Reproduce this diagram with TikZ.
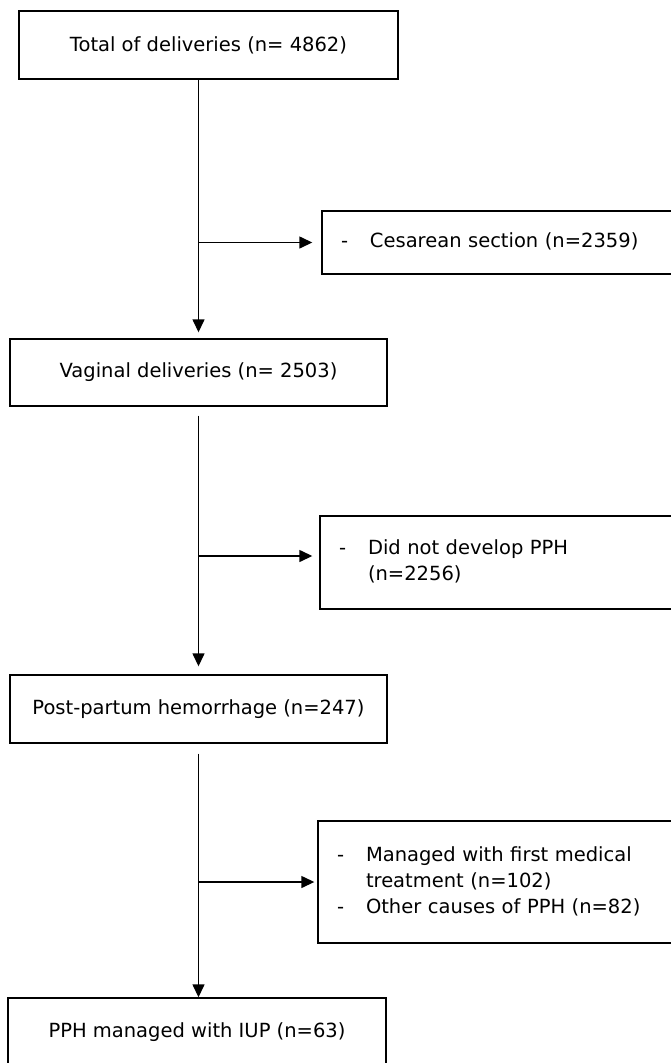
\documentclass[tikz,border=0pt]{standalone}
\usepackage{fontspec}
\setmainfont{DejaVu Sans}
\usetikzlibrary{arrows.meta}
\tikzset{
  box/.style={draw, line width=1.4pt, minimum height=68pt, inner sep=0pt, font=\fontsize{19.5}{26}\selectfont},
  sidebox/.style={draw, line width=1.4pt, minimum width=378pt, text width=340pt, inner xsep=19pt, align=left, font=\fontsize{19.5}{26}\selectfont},
  arr/.style={line width=1.4pt, -{Triangle[length=13pt,width=12pt]}}
}
\begin{document}
\begin{tikzpicture}[x=1pt,y=-1pt]
\useasboundingbox (0,0) rectangle (671,1063);
\clip (0,0) rectangle (671,1063);
% main column
\node[box, minimum width=379pt] (total) at (208.5,45){Total of deliveries (n= 4862)};
\node[box, minimum width=377pt, minimum height=67pt] (vaginal) at (198.5,372.5){Vaginal deliveries (n= 2503)};
\node[box, minimum width=377pt] (pph) at (198.5,709){Post-partum hemorrhage (n=247)};
\node[box, minimum width=378pt] (iup) at (197,1032){PPH managed with IUP (n=63)};
% excluded
\node[sidebox, minimum height=63pt] (cesarean) at (511,242.5){\begin{tabular}{@{}p{29pt}@{}l@{}}- & Cesarean section (n=2359)\end{tabular}};
\node[sidebox, minimum height=93pt] (nopph) at (509,562.5){\begin{tabular}{@{}p{29pt}@{}l@{}}- & Did not develop PPH\\ & (n=2256)\end{tabular}};
\node[sidebox, minimum height=122pt] (other) at (507,882){\begin{tabular}{@{}p{29pt}@{}l@{}}- & Managed with first medical\\ & treatment (n=102)\\- & Other causes of PPH (n=82)\end{tabular}};
\coordinate (b1) at (vaginal.north |- cesarean.west);
\coordinate (b2) at (199,556);
\coordinate (b3) at (pph.south |- other.west);
% arrows
\draw[arr, shorten >=6pt] (total.south -| vaginal.north) -- (vaginal.north);
\draw[arr, shorten >=9pt] (b1) -- (cesarean.west);
\draw[arr, shorten <=9pt, shorten >=8pt] (vaginal.south) -- (pph.north);
\draw[arr, shorten >=7pt] (b2) -- (b2 -| nopph.west);
\draw[arr, shorten <=10pt] (pph.south) -- (pph.south |- iup.north);
\draw[arr, shorten >=3pt] (b3) -- (other.west);
\end{tikzpicture}
\end{document}
